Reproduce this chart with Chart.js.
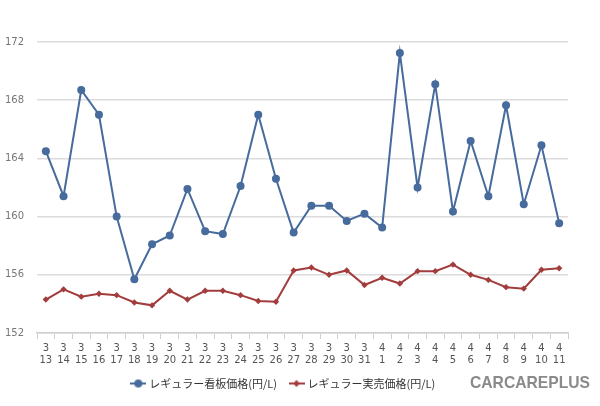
<!DOCTYPE html>
<html>
<head>
<meta charset="utf-8">
<script src="https://cdn.jsdelivr.net/npm/chart.js@4.4.1/dist/chart.umd.min.js"></script>
<style>
  body { margin: 0; background: #fff; }
</style>
</head>
<body>
<canvas id="price-chart" width="600" height="406"></canvas>
<script>
const months = ['3','3','3','3','3','3','3','3','3','3','3','3','3','3','3','3','3','3','3',
  '4','4','4','4','4','4','4','4','4','4','4']
const days = ['13','14','15','16','17','18','19','20','21','22','23','24','25','26','27','28','29','30','31',
  '1','2','3','4','5','6','7','8','9','10','11']

const signPrice = [164.5, 161.4, 168.7, 167.0, 160.0, 155.7, 158.1, 158.7, 161.9, 159.0,
  158.8, 162.1, 167.0, 162.6, 158.9, 160.75, 160.75, 159.7, 160.2, 159.25,
  171.25, 162.0, 169.1, 160.35, 165.2, 161.4, 167.65, 160.85, 164.9, 159.55]
const actualPrice = [154.3, 155.0, 154.5, 154.7, 154.6, 154.1, 153.9, 154.9, 154.3, 154.9,
  154.9, 154.6, 154.2, 154.15, 156.3, 156.5, 156.0, 156.3, 155.3, 155.8,
  155.4, 156.25, 156.25, 156.7, 156.0, 155.65, 155.15, 155.05, 156.35, 156.45]

const seriesNames = ['レギュラー看板価格(円/L)', 'レギュラー実売価格(円/L)']
const yMin = 152
const yMax = 172
const yStep = 4

const blue = '#466b9c'
const red = '#a33c3c'

// little legend markers: a line with the point on it
function legendMarker(color, shape) {
  const c = document.createElement('canvas')
  c.width = 16
  c.height = 10
  const g = c.getContext('2d')
  g.strokeStyle = color
  g.fillStyle = color
  g.lineWidth = 2
  g.beginPath()
  g.moveTo(0, 5)
  g.lineTo(16, 5)
  g.stroke()
  g.beginPath()
  if (shape === 'circle') {
    g.arc(8, 5, 4, 0, Math.PI * 2)
  } else {
    g.moveTo(8, 1.5); g.lineTo(11.5, 5); g.lineTo(8, 8.5); g.lineTo(4.5, 5); g.closePath()
  }
  g.fill()
  return c
}

const logoPlugin = {
  id: 'logo',
  afterDraw(chart) {
    const ctx = chart.ctx
    ctx.save()
    ctx.fillStyle = '#8a8a8a'
    ctx.font = 'bold 17px "Liberation Sans", Arial, sans-serif'
    ctx.textBaseline = 'middle'
    ctx.textAlign = 'left'
    ctx.fillText('CARCAREPLUS', 470, 383, 120)
    ctx.restore()
  }
}

const chartData = {
  labels: months.map((m, i) => [m, days[i]]),
  datasets: [{
    label: seriesNames[0],
    data: signPrice,
    borderColor: blue,
    backgroundColor: blue,
    borderWidth: 2,
    pointRadius: 4,
    pointStyle: 'circle',
    pointBorderWidth: 0,
    tension: 0,
    legendMarker: legendMarker(blue, 'circle')
  }, {
    label: seriesNames[1],
    data: actualPrice,
    borderColor: red,
    backgroundColor: red,
    borderWidth: 2,
    pointRadius: 3.2,
    pointStyle: 'rectRot',
    pointBorderWidth: 0,
    tension: 0,
    legendMarker: legendMarker(red, 'diamond')
  }]
}

const chartConfig = {
  type: 'line',
  data: chartData,
  plugins: [logoPlugin],
  options: {
    responsive: false,
    animation: false,
    layout: {
      padding: { left: 0, right: 32, top: 42, bottom: 7 }
    },
    scales: {
      x: {
        offset: true,
        grid: {
          offset: true,
          display: true,
          drawOnChartArea: false,
          drawTicks: true,
          tickLength: 6,
          color: '#cfcfcf'
        },
        border: { color: '#cfcfcf', width: 1.5 },
        ticks: {
          color: '#555',
          font: { family: 'DejaVu Sans', size: 10 },
          maxRotation: 0,
          autoSkip: false,
          padding: 3
        },
        afterFit: (scale) => { scale.height = 31 }
      },
      y: {
        min: yMin,
        max: yMax,
        grid: {
          color: '#dcdcdc',
          lineWidth: 1.5,
          drawTicks: false
        },
        border: { display: false },
        ticks: {
          stepSize: yStep,
          color: '#777',
          font: { family: 'DejaVu Sans', size: 10 },
          padding: 13
        },
        afterFit: (scale) => { scale.width = 37 }
      }
    },
    plugins: {
      tooltip: { enabled: false },
      legend: {
        position: 'bottom',
        labels: {
          usePointStyle: true,
          boxWidth: 16,
          boxHeight: 10,
          padding: 14,
          color: '#333',
          font: { family: '"Noto Sans CJK JP"', size: 11 },
          generateLabels: (chart) => chart.data.datasets.map((ds, i) => ({
            text: ds.label,
            pointStyle: ds.legendMarker,
            fillStyle: ds.borderColor,
            strokeStyle: ds.borderColor,
            fontColor: '#333',
            lineWidth: 0,
            datasetIndex: i
          }))
        }
      }
    }
  }
}

const chartElement = document.getElementById('price-chart').getContext('2d')
const priceChart = new Chart(chartElement, chartConfig)
</script>
</body>
</html>
